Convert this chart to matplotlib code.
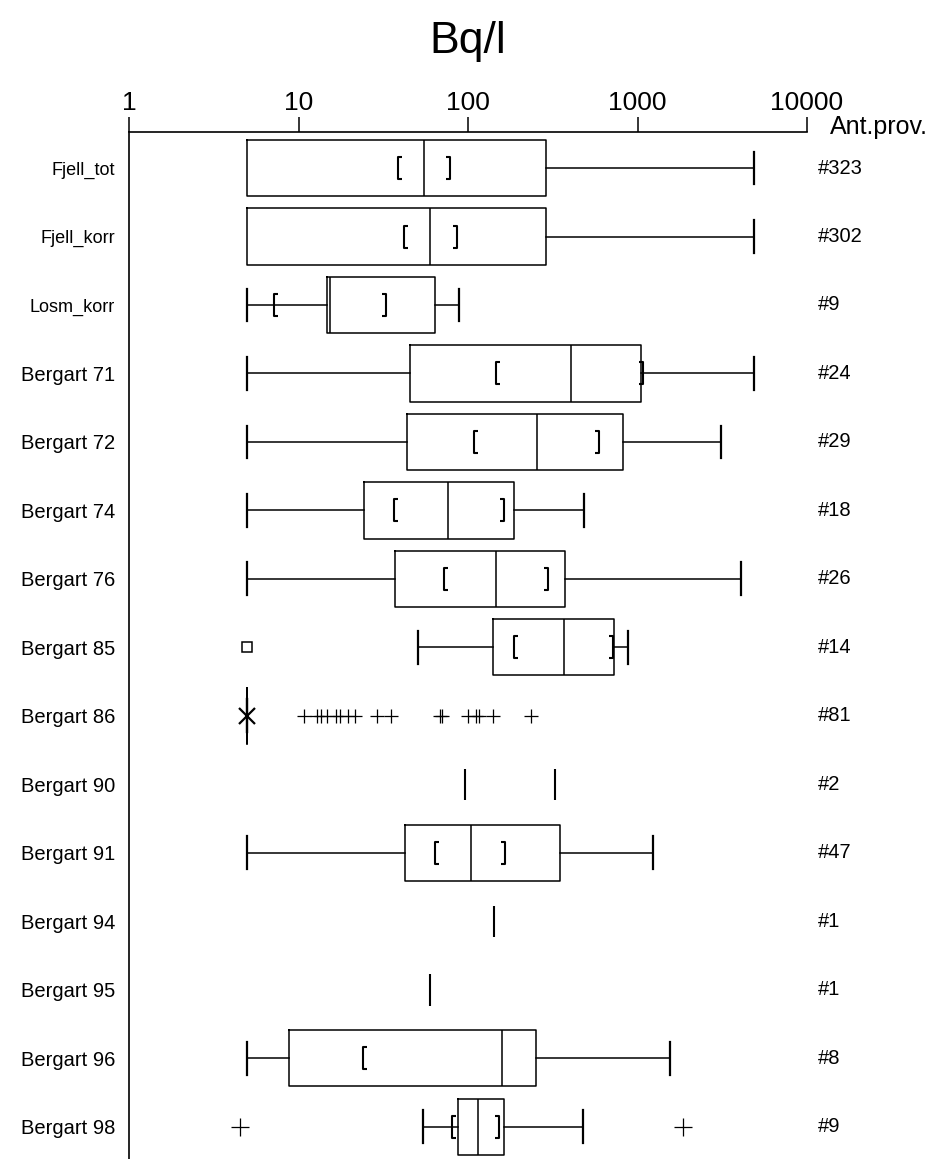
import matplotlib
matplotlib.use("Agg")
import matplotlib.pyplot as plt
from matplotlib.path import Path
from matplotlib.transforms import blended_transform_factory

plt.rcParams['font.family'] = ['Liberation Sans Narrow', 'Liberation Sans', 'DejaVu Sans']

# ---------------- data ----------------
categories = ["Fjell_tot", "Fjell_korr", "Losm_korr", "Bergart 71", "Bergart 72",
              "Bergart 74", "Bergart 76", "Bergart 85", "Bergart 86", "Bergart 90",
              "Bergart 91", "Bergart 94", "Bergart 95", "Bergart 96", "Bergart 98"]
counts = ["#323", "#302", "#9", "#24", "#29", "#18", "#26", "#14", "#81", "#2",
          "#47", "#1", "#1", "#8", "#9"]

# box statistics (None = no box drawn for that row)
whislo = [5, 5, 5, 5, 5, 5, 5, 51, 5, None, 5, None, None, 5, 54]
q1     = [5, 5, 14.7, 45.5, 43.7, 24.4, 37, 140, 5, None, 42.5, None, None, 8.8, 87]
median = [55, 60, 15.3, 405, 255, 76, 146, 369, 5, None, 104, None, None, 159, 115]
q3     = [288, 288, 64, 1050, 820, 187, 373, 727, 5, None, 349, None, None, 252, 162]
whishi = [4900, 4900, 88, 4900, 3100, 481, 4080, 879, 5, None, 1235, None, None, 1550, 475]

# confidence brackets "[" and "]"
ci_low  = [38.6, 42, 7.2, 146, 109, 36.6, 72, 187, None, None, 64, None, None, 24, 80]
ci_high = [78, 86, 33, 1075, 593, 162, 297, 715, None, None, 165, None, None, None, 152]

# outliers
fliers_85 = [5]
fliers_86 = [10.8, 12.8, 13.5, 14.7, 16.6, 17.6, 19.7, 21.5, 28.9, 35,
             68.4, 70, 100.4, 111, 116.6, 140, 234]
marker_86 = [5]
fliers_98 = [4.5, 1860]

# single-value rows
singles_90 = [96, 326]
singles_94 = [142]
singles_95 = [60]

xticks = [1, 10, 100, 1000, 10000]
xticklabels = ["1", "10", "100", "1000", "10000"]

# ---------------- figure ----------------
W, H = 944, 1159
fig = plt.figure(figsize=(W / 100, H / 100), dpi=100)
ax = fig.add_axes([129 / W, 0.0, (807 - 129) / W, 1 - 132 / H])

ax.set_xscale('log')
ax.set_xlim(1, 10000)
ax.set_ylim(14.47, -0.526)

box_lw = 1.1
stats, pos = [], []
for i in range(len(categories)):
    if q1[i] is None:
        continue
    stats.append(dict(med=median[i], q1=q1[i], q3=q3[i],
                      whislo=whislo[i], whishi=whishi[i], fliers=[]))
    pos.append(i)

res = ax.bxp(stats, positions=pos, widths=0.82, orientation='horizontal',
             showfliers=False, manage_ticks=False, capwidths=0.48,
             boxprops=dict(color='black', lw=box_lw),
             whiskerprops=dict(color='black', lw=box_lw),
             capprops=dict(color='black', lw=1.6),
             medianprops=dict(color='black', lw=box_lw))
# hide lower caps that coincide with the box edge (no lower whisker)
for k, s in enumerate(stats):
    if s['whislo'] == s['q1'] and s['q1'] != s['q3']:
        res['caps'][2 * k].set_visible(False)

# brackets
lbr = Path([(0.35, -1), (0, -1), (0, 1), (0.35, 1)],
           [Path.MOVETO, Path.LINETO, Path.LINETO, Path.LINETO])
rbr = Path([(-0.35, -1), (0, -1), (0, 1), (-0.35, 1)],
           [Path.MOVETO, Path.LINETO, Path.LINETO, Path.LINETO])
for i in range(len(categories)):
    if ci_low[i] is not None:
        ax.plot([ci_low[i]], [i], marker=lbr, ms=16, mew=1.5, mec='black',
                mfc='none', ls='none')
    if ci_high[i] is not None:
        ax.plot([ci_high[i]], [i], marker=rbr, ms=16, mew=1.5, mec='black',
                mfc='none', ls='none')

# outliers
r85 = categories.index("Bergart 85")
ax.plot(fliers_85, [r85] * len(fliers_85), marker='s', ms=6.5, mfc='none',
        mec='black', mew=1.1, ls='none')
r86 = categories.index("Bergart 86")
ax.plot(fliers_86, [r86] * len(fliers_86), marker='+', ms=10, mec='black',
        mew=0.9, ls='none')
ax.plot(marker_86, [r86] * len(marker_86), marker='x', ms=11, mec='black',
        mew=1.6, ls='none')
r98 = categories.index("Bergart 98")
ax.plot(fliers_98, [r98] * len(fliers_98), marker='+', ms=13, mec='black',
        mew=0.9, ls='none')

# single lines
for name, vals in (("Bergart 90", singles_90), ("Bergart 94", singles_94),
                   ("Bergart 95", singles_95)):
    r = categories.index(name)
    ax.vlines(vals, r - 0.23, r + 0.23, color='black', lw=1.5)

# axes styling
ax.spines['right'].set_visible(False)
ax.spines['bottom'].set_visible(False)
ax.spines['top'].set_linewidth(1.2)
ax.spines['left'].set_linewidth(1.2)
ax.xaxis.tick_top()
ax.set_xticks(xticks)
ax.set_xticklabels(xticklabels, fontsize=19)
ax.xaxis.set_minor_locator(matplotlib.ticker.NullLocator())
ax.tick_params(axis='x', which='major', direction='out', length=11, width=1.1,
               pad=1)

ax.set_yticks(range(len(categories)))
ax.set_yticklabels(categories)
ax.tick_params(axis='y', length=0, pad=10)
for i, lab in enumerate(ax.get_yticklabels()):
    lab.set_fontsize(13 if i < 3 else 14.5)

tr = blended_transform_factory(fig.transFigure, ax.transData)
for i, c in enumerate(counts):
    ax.text(818 / W, i, c, transform=tr, ha='left', va='center', fontsize=14.5,
            clip_on=False)

fig.text(830 / W, 1 - 127 / H, "Ant.prov.", ha='left', va='center', fontsize=18)
fig.text(468 / W, 1 - 42 / H, "Bq/l", ha='center', va='center', fontsize=32)

fig.savefig("out.png", dpi=100)
